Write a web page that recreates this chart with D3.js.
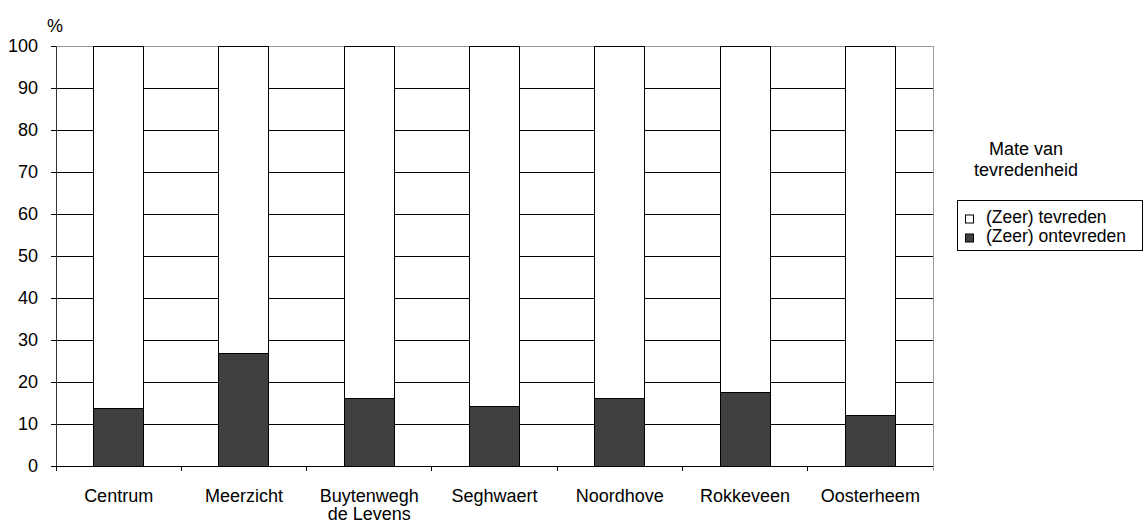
<!DOCTYPE html>
<html><head><meta charset="utf-8">
<script src="https://cdn.jsdelivr.net/npm/d3@7"></script>
<style>body{margin:0;background:#fff}svg{display:block;font-family:"Liberation Sans",Arial,sans-serif}</style>
</head><body><svg id="c" width="1144" height="523"></svg>
<script>
const categories = [["Centrum"],["Meerzicht"],["Buytenwegh","de Levens"],["Seghwaert"],["Noordhove"],["Rokkeveen"],["Oosterheem"]];
const ontevreden = [13.6, 26.9, 16.0, 14.1, 16.0, 17.5, 12.1];
const tevreden = ontevreden.map(v => 100 - v);
const yTicks = [0,10,20,30,40,50,60,70,80,90,100];
const seriesNames = ["(Zeer) tevreden","(Zeer) ontevreden"];
const legendTitle = ["Mate van","tevredenheid"];

const FS = 18;
const svg = d3.select("#c");
const L = 56, R = 933, T = 46, B = 466;
const xb = d3.scaleBand().domain(d3.range(categories.length)).range([L, R]);
const y = d3.scaleLinear().domain([0,100]).range([B, T]);

svg.append("g").selectAll("line").data(yTicks.filter(d=>d>0 && d<100)).join("line")
  .attr("x1", L).attr("x2", R).attr("y1", d=>y(d)).attr("y2", d=>y(d))
  .attr("stroke", "#000").attr("stroke-width", 1).attr("shape-rendering","crispEdges");
svg.append("line").attr("x1",L).attr("x2",R).attr("y1",y(100)).attr("y2",y(100)).attr("stroke","#999").attr("shape-rendering","crispEdges");
svg.append("line").attr("x1",R).attr("x2",R).attr("y1",T).attr("y2",B+5).attr("stroke","#999").attr("shape-rendering","crispEdges");

const bw = 50;
const g = svg.append("g");
categories.forEach((c,i)=>{
  const cx = xb(i) + xb.bandwidth()/2;
  g.append("rect").attr("x", cx - bw/2).attr("y", y(tevreden[i] + ontevreden[i])).attr("width", bw).attr("height", y(ontevreden[i]) - y(tevreden[i] + ontevreden[i]))
    .attr("fill","#fff").attr("stroke","#000").attr("stroke-width",1).attr("shape-rendering","crispEdges");
  g.append("rect").attr("x", cx - bw/2).attr("y", y(ontevreden[i])).attr("width", bw).attr("height", y(0)-y(ontevreden[i]))
    .attr("fill","#404040").attr("stroke","#000").attr("stroke-width",1).attr("shape-rendering","crispEdges");
});

const ya = svg.append("g").attr("transform",`translate(${L},0)`)
  .call(d3.axisLeft(y).tickValues(yTicks).tickSize(5).tickPadding(13));
ya.select(".domain").attr("stroke","#333");
ya.selectAll("line").attr("stroke","#000");
ya.selectAll("text").attr("font-size",FS).attr("fill","#000").attr("font-family","Liberation Sans, Arial, sans-serif");

svg.append("line").attr("x1",L).attr("x2",R).attr("y1",B).attr("y2",B).attr("stroke","#000").attr("shape-rendering","crispEdges");
svg.append("g").selectAll("line").data(d3.range(categories.length+1)).join("line")
  .attr("x1", i=> i<categories.length ? xb(i) : R).attr("x2", i=> i<categories.length ? xb(i) : R)
  .attr("y1", B).attr("y2", B+5).attr("stroke", (i)=> i===categories.length ? "#999" : "#000").attr("shape-rendering","crispEdges");

categories.forEach((c,i)=>{
  const cx = xb(i) + xb.bandwidth()/2;
  const t = svg.append("text").attr("x",cx).attr("y",502).attr("text-anchor","middle").attr("font-size",FS).attr("fill","#000");
  c.forEach((line,j)=> t.append("tspan").attr("x",cx).attr("dy", j===0?0:18).text(line));
});

svg.append("text").attr("x",55).attr("y",32).attr("font-size",FS).attr("text-anchor","middle").text("%");

const lt = svg.append("text").attr("x",1026).attr("y",155).attr("text-anchor","middle").attr("font-size",FS);
legendTitle.forEach((l,j)=> lt.append("tspan").attr("x",1026).attr("dy", j===0?0:21).text(l));
svg.append("rect").attr("x",957.5).attr("y",200.5).attr("width",185).attr("height",50).attr("fill","#fff").attr("stroke","#000");
const fills = ["#fff","#404040"];
seriesNames.forEach((s,j)=>{
  const base = 222.5 + j*19;
  svg.append("rect").attr("x",965.5).attr("y",base-7.5).attr("width",8).attr("height",8).attr("fill",fills[j]).attr("stroke","#000");
  svg.append("text").attr("x",986).attr("y",base).attr("font-size",17.5).text(s);
});
</script></body></html>
